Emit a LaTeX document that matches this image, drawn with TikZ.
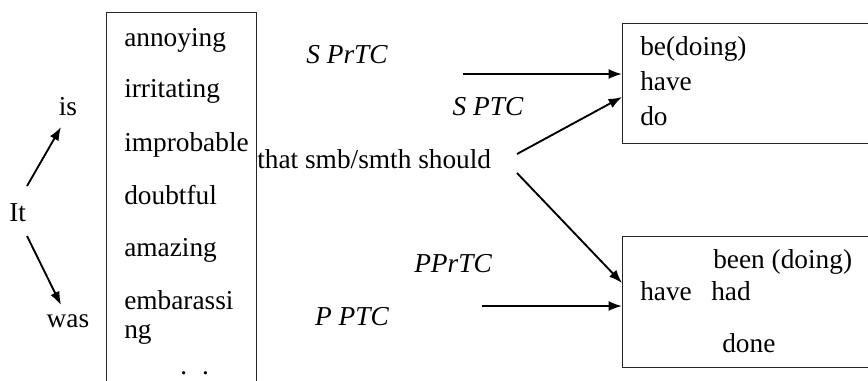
\documentclass[tikz,border=0pt]{standalone}
\usepackage{fontspec}
\setmainfont{Liberation Serif}
\usetikzlibrary{arrows.meta}
\begin{document}
\begin{tikzpicture}[x=0.75pt,y=-0.75pt,
  txt/.style={inner sep=0pt, text height=0.68em, text depth=0.22em, font=\fontsize{20.5}{24}\selectfont},
  itl/.style={txt, font=\fontsize{20.5}{24}\selectfont\itshape},
  boxn/.style={draw=black!85, line width=1pt, inner sep=0pt, anchor=north west},
  arr/.style={line width=1.4pt, -{Latex[length=10pt,width=7.5pt]}}]
\useasboundingbox (0,0) rectangle (868,380);
\begin{scope}
\clip (0,0) rectangle (868,380);
% boxes
\node[boxn, minimum width=112.5pt, minimum height=280pt] (adj) at (106,12) {};
\node[boxn, minimum width=190pt, minimum height=90pt] (top) at (622,23) {};
\node[boxn, minimum width=190pt, minimum height=98.25pt] (bot) at (622,236) {};
% left texts
\node[txt, anchor=west] (it) at (9,218) {It};
\node[txt] (is) at (68,112) {is};
\node[txt] (was) at (68,324) {was};
% adjective list
\node[txt, anchor=west] (a1) at (124,43) {annoying};
\node[txt, anchor=west] (a2) at (124,94) {irritating};
\node[txt, anchor=west] (a3) at (124,148) {improbable};
\node[txt, anchor=west] (a4) at (124,201) {doubtful};
\node[txt, anchor=west] (a5) at (124,253) {amazing};
\node[txt, anchor=west] (a6) at (124,306) {embarassi};
\node[txt, anchor=west] (a7) at (124,335) {ng};
\node[inner sep=0pt, text height=4pt, text depth=0pt, anchor=base west, font=\fontsize{20.5}{24}\selectfont] (a8) at (180,374) {.\hspace{0.55em}.};
% middle
\node[txt, anchor=west] (that) at (257,165) {that smb/smth should};
\node[itl] (sprtc) at (347,60) {S PrTC};
\node[itl] (sptc) at (488,112) {S PTC};
\node[itl] (pprtc) at (453,269) {PPrTC};
\node[itl] (pptc) at (352,322) {P PTC};
% right box texts
\node[txt, anchor=west] (r1) at (640,52) {be(doing)};
\node[txt, anchor=west] (r2) at (640,87) {have};
\node[txt, anchor=west] (r3) at (640,122) {do};
\node[txt, anchor=west] (b1) at (713,265) {been (doing)};
\node[txt, anchor=west] (b2) at (640,297) {have};
\node[txt, anchor=west] (b3) at (711,297) {had};
\node[txt, anchor=west] (b4) at (722,349) {done};
% connector coordinates
\coordinate (itu) at (27,186);
\coordinate (itd) at (27,236);
\coordinate (isp) at (61,127);
\coordinate (wasp) at (61,305);
\coordinate (h1) at (463,74);
\coordinate (h2) at (482,306);
\coordinate (s1) at (517,154);
\coordinate (s2) at (517,173);
\coordinate (y74) at (0,74);
\coordinate (y97) at (0,97);
\coordinate (y283) at (0,283);
\coordinate (y306) at (0,306);
% arrows
\draw[arr] (itu) -- (isp);
\draw[arr] (itd) -- (wasp);
\draw[arr] (h1) -- (top.west |- y74);
\draw[arr] (s1) -- (top.west |- y97);
\draw[arr] (s2) -- (bot.west |- y283);
\draw[arr] (h2) -- (bot.west |- y306);
\end{scope}
\end{tikzpicture}
\end{document}
